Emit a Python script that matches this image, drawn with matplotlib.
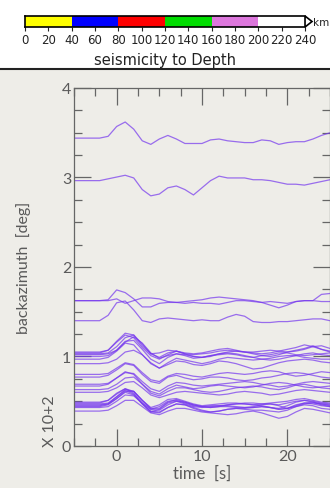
import matplotlib
matplotlib.use("Agg")
import matplotlib.pyplot as plt
from matplotlib.patches import Rectangle, Polygon
from matplotlib.ticker import MultipleLocator

# depth colour scale
depth_edges = [0, 40, 80, 120, 160, 200, 240]
depth_colors = ['#ffff00', '#0000ff', '#ff0000', '#00dd00', '#dd77dd', '#ffffff']
depth_ticks = [0, 20, 40, 60, 80, 100, 120, 140, 160, 180, 200, 220, 240]

# time axis of the traces [s]
times = list(range(-5, 26))

# trace baselines (x 10+2 deg) and deviations in hundredths, one per second
top_bases = [3.44, 2.965]
top_traces = [
    [0, 0, 0, 0, 2, 13, 18, 10, -3, -7, -1, 3, -1, -6, -6, -6, -2, -1, -3, -4, -5, -5, -2, -3, -7, -5, -4, -4, -1, 3, 6],
    [0, 0, 0, 0, 2, 4, 6, 3, -10, -17, -15, -8, -6, -10, -16, -8, 0, 5, 3, 3, 3, 1, 1, 0, -2, -4, -4, -5, -3, -1, 1],
]
mid_bases = [1.624, 1.624, 1.40]
mid_traces = [
    [0, 0, 0, 0, 1, 12, 9, 2, -7, -7, -3, -2, -2, -1, 0, 1, 3, 4, 3, 2, 1, 0, -2, -5, -8, -5, -1, 0, 0, 7, 8],
    [0, 0, 0, 0, 0, 2, -3, 0, 3, 3, 2, -1, -2, -3, -2, -3, -3, -4, -2, 0, 0, -1, -2, -1, -2, -3, -1, 0, 0, -1, -1],
    [0, 0, 0, 0, 6, 20, 22, 12, 0, -2, 2, 3, 2, 1, 0, 1, 0, 0, 4, 7, 5, -1, -2, -2, -1, -1, 0, 1, 2, 2, 0],
]
bundle_bases = [1.05, 1.03, 1.00, 0.97, 0.92, 1.04, 1.02,
                0.80, 0.77,
                0.69, 0.67, 0.63, 0.60,
                0.49, 0.47, 0.45, 0.43, 0.39, 0.48, 0.46, 0.44]
bundle_traces = [
    [0, 0, 0, 0, 2, 12, 21, 19, 7, -2, -1, 2, 1, -2, -3, -2, -1, 1, 2, 1, 0, -1, -2, -1, 1, 3, 5, 8, 6, 3, 1],
    [0, 0, 0, 0, 1, 8, 18, 21, 11, 0, -4, 1, 3, 0, -3, -4, -2, 0, 2, 3, 2, 0, -2, -3, -1, 2, 4, 6, 9, 5, 2],
    [0, 0, 0, 0, 1, 7, 17, 18, 8, -3, -8, -1, 3, 2, 0, -1, 0, 3, 4, 3, 1, -1, -3, -4, -3, -1, 1, 3, 4, 2, 1],
    [0, 0, 0, 0, 2, 9, 18, 16, 5, -5, -10, -4, 1, -1, -3, -5, -3, 0, 2, 1, 0, -1, 0, 1, 3, 4, 4, 2, 1, 0, 0],
    [0, 0, 0, 0, 1, 5, 13, 15, 10, 1, -5, -1, 3, 2, -1, -2, 0, 3, 2, 0, -3, -6, -5, -2, 1, 3, 4, 5, 4, 2, 1],
    [0, 0, 0, 0, 3, 12, 20, 17, 6, -3, -7, -2, 2, 0, -1, 0, 2, 4, 5, 3, 1, 1, 2, 3, 2, 1, 2, 4, 7, 8, 5],
    [0, 0, 0, 0, 1, 5, 14, 20, 13, 2, -4, -1, 1, -1, -4, -3, -1, 0, 1, 0, -2, -3, -1, 0, 2, 2, 0, -1, 0, 1, 2],
    [0, 0, 0, 0, 1, 7, 13, 11, 2, -6, -8, -2, 1, 0, -2, -3, -1, 1, 2, 1, 0, 1, 3, 4, 3, 0, -2, -1, 1, 3, 2],
    [0, 0, 0, 0, 2, 8, 15, 13, 3, -5, -7, 0, 2, -1, -3, -2, 0, 0, -1, -3, -4, -3, -1, 0, 2, 4, 5, 4, 2, 0, -1],
    [0, 0, 0, 0, 1, 7, 13, 12, 3, -5, -8, -2, 2, 1, -1, -2, -1, 0, 1, 2, 3, 2, 0, -1, -3, -2, 0, 2, 3, 2, 1],
    [0, 0, 0, 0, 2, 9, 16, 13, 2, -6, -9, -3, 1, -1, -3, -2, 0, 1, 0, -1, -2, -1, 1, 3, 4, 3, 1, -1, -2, -1, 0],
    [0, 0, 0, 0, 1, 6, 13, 14, 6, -4, -7, -2, 2, 2, 0, -2, -3, -2, 0, 2, 3, 4, 3, 1, 0, 2, 5, 6, 4, 2, 1],
    [0, 0, 0, 0, 1, 5, 11, 12, 5, -3, -6, -3, 0, 1, 0, -1, -2, -3, -2, 0, 1, 0, -1, -3, -2, 0, 2, 3, 2, 1, 0],
    [0, 0, 0, 0, 2, 9, 15, 12, 2, -6, -3, 3, 4, 1, -2, -4, -3, -2, -1, -1, -2, -3, -2, -1, 0, 1, 3, 4, 2, 0, -1],
    [0, 0, 0, 0, 1, 8, 16, 14, 4, -5, -5, 2, 5, 2, -1, -3, -4, -3, -1, 0, 0, -1, -2, -4, -5, -2, 2, 4, 3, 1, 0],
    [0, 0, 0, 0, 2, 10, 17, 13, 2, -7, -4, 3, 5, 2, -1, -2, -1, 0, 0, -1, -2, -2, -1, -2, -4, -3, 1, 3, 2, 0, -1],
    [0, 0, 0, 0, 1, 7, 14, 13, 5, -4, -5, 0, 4, 3, 0, -3, -5, -4, -2, -1, -1, 0, 1, 0, -2, -1, 2, 5, 6, 3, 1],
    [0, 0, 0, 0, 1, 6, 12, 12, 5, -2, -4, 0, 3, 3, 1, -1, -2, -3, -4, -3, -1, 0, -2, -5, -8, -6, -1, 3, 2, 0, -2],
    [0, 0, 0, 0, 3, 11, 16, 11, 0, -7, -4, 2, 3, 0, -3, -4, -3, -3, -2, -1, 0, 0, -1, -1, -2, 0, 2, 3, 1, -1, -2],
    [0, 0, 0, 0, 1, 7, 15, 15, 5, -5, -6, 0, 4, 3, 0, -2, -3, -2, -2, -3, -3, -2, 0, 1, -1, -4, -2, 1, 2, 1, -1],
    [0, 0, 0, 0, 2, 9, 16, 13, 3, -6, -7, -1, 3, 2, -2, -5, -6, -5, -3, -2, -3, -4, -4, -5, -6, -4, 0, 2, 1, -2, -3],
]

bg = '#eeede8'
txt = '#5a5a5a'
trace_col = '#7436ee'
font = ['Lato', 'DejaVu Sans']

fig = plt.figure(figsize=(3.30, 4.89), dpi=100, facecolor=bg)

# white header with the depth scale
fig.patches.append(Rectangle((0, 0.857), 1, 0.143, transform=fig.transFigure,
                             facecolor='white', edgecolor='none', zorder=-5))
fig.add_artist(plt.Line2D([0, 1], [0.857, 0.857], transform=fig.transFigure,
                          color='#222222', lw=1.5))

cax = fig.add_axes([0.0758, 0.9427, 0.8485, 0.0225])
for i in range(len(depth_colors)):
    cax.barh(0.5, depth_edges[i + 1] - depth_edges[i], left=depth_edges[i], height=1,
             color=depth_colors[i], edgecolor='none')
cax.add_patch(Polygon([[240, 0], [246, 0.5], [240, 1]], closed=True, facecolor='white',
                      edgecolor='black', lw=1.2, clip_on=False))
cax.set_xlim(0, 240)
cax.set_ylim(0, 1)
cax.set_yticks([])
cax.set_xticks(depth_ticks)
cax.set_xticklabels([str(d) for d in depth_ticks], fontsize=8.5, family='DejaVu Sans')
cax.tick_params(axis='x', length=3, width=0.8, pad=1.5, colors='#222222')
for s in cax.spines.values():
    s.set_linewidth(1.2)
cax.spines['right'].set_visible(False)
cax.text(246.5, 0.5, 'km', fontsize=7.5, va='center', ha='left', color='#222222')
fig.text(0.5, 0.877, 'seismicity to Depth', fontsize=10.5, ha='center', va='center', color='#222222')

# traces
ax = fig.add_axes([0.2242, 0.0859, 0.7758, 0.7321])
ax.set_facecolor(bg)
for base, dev in zip(top_bases + mid_bases + bundle_bases,
                     top_traces + mid_traces + bundle_traces):
    ax.plot(times, [base + d / 100 for d in dev], color=trace_col, lw=0.9, alpha=0.7)

ax.set_xlim(-5, 25)
ax.set_ylim(0, 4)
ax.xaxis.set_major_locator(MultipleLocator(10))
ax.xaxis.set_minor_locator(MultipleLocator(2.5))
ax.yaxis.set_major_locator(MultipleLocator(1))
ax.yaxis.set_minor_locator(MultipleLocator(0.25))
ax.tick_params(which='both', direction='in', top=True, right=True, colors='#666666',
               labelcolor=txt, labelsize=11.5, width=0.9)
ax.tick_params(which='major', length=12, pad=2)
ax.tick_params(which='minor', length=6)
for lab in ax.get_xticklabels() + ax.get_yticklabels():
    lab.set_family(font)
for s in ax.spines.values():
    s.set_color('#666666')
    s.set_linewidth(0.9)

ax.set_xlabel('time  [s]', fontsize=12, color=txt, family=font, labelpad=1)
ax.set_ylabel('backazimuth  [deg]', fontsize=11.5, color=txt, family=font, labelpad=22)
ax.text(-0.095, 0.0, 'X 10+2', transform=ax.transAxes, rotation=90, fontsize=11.5, color=txt,
        family=font, ha='center', va='bottom')

fig.savefig('out.png', dpi=100, facecolor=bg)
